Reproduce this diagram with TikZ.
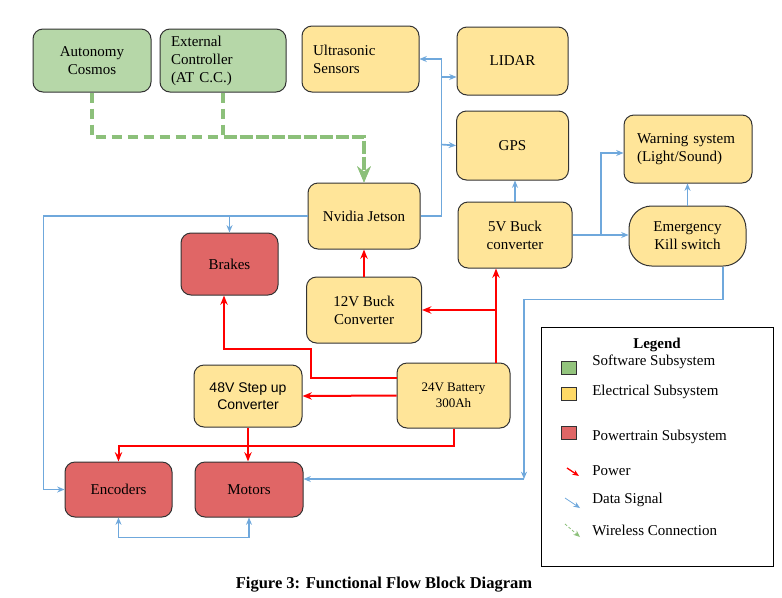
\documentclass[tikz,border=0pt]{standalone}
\usepackage{fontspec}
\setmainfont{Liberation Serif}
\newfontfamily\arialfont{Liberation Sans}
\usepackage{tikz}
\usetikzlibrary{shapes,arrows,arrows.meta,calc}
\usetikzlibrary{positioning}
\definecolor{clrBorders}{RGB}{51,51,51}
\definecolor{clrSoftware}{RGB}{182,215,168}
\definecolor{clrElectrical}{RGB}{255,229,153}
\definecolor{clrPowertrain}{RGB}{224,102,102}
\definecolor{clrData}{RGB}{111,168,220}
\definecolor{clrWireless}{RGB}{140,192,122}
\newcommand{\boxtxt}{\fontsize{11.25}{13.5}\selectfont}
\tikzstyle{box_style0}=[draw=clrBorders, line width=0.75pt, rounded corners=7.5pt,
anchor=center, align=center, inner sep=2pt, font=\boxtxt]
\tikzstyle{software}=[box_style0, fill=clrSoftware]
\tikzstyle{electrical}=[box_style0, fill=clrElectrical]
\tikzstyle{powertrain}=[box_style0, fill=clrPowertrain]
\tikzstyle{power}=[->, >={Stealth[length=7pt, width=5.5pt]}, draw=red, line width=1.5pt]
\tikzstyle{data}=[->, >={Stealth[length=5.5pt, width=4.5pt]}, draw=clrData, line width=1.25pt]
\tikzstyle{wireless}=[->, >={Stealth[length=12pt, width=10pt]}, draw=clrWireless, line width=2.4pt, dash pattern=on 8pt off 4pt]
\tikzstyle{legend_item}=[anchor=west, inner sep=0pt, font=\boxtxt]
\tikzstyle{legend_sq}=[draw=clrBorders, line width=0.75pt, minimum width=11.25pt, minimum height=9.75pt, inner sep=0pt]

\begin{document}
\begin{tikzpicture}[x=0.75pt, y=-0.75pt]
		\path[use as bounding box, fill=white] (0,0) rectangle (782,597);

		% software subsystem
		\node[software, minimum width=88.5pt, minimum height=47.25pt] (Cos) at (92,60.5) {Autonomy\\Cosmos};
		\node[software, align=left, text width=78pt, inner xsep=8.25pt, minimum height=47.25pt] (Ext) at (223,60.5) {External\\Controller\\(AT C.C.)};

		% electrical subsystem
		\node[electrical, align=left, text width=71.25pt, inner xsep=8.25pt, minimum height=49.5pt] (Ult) at (360.5,59) {Ultrasonic\\Sensors};
		\node[electrical, minimum width=83.25pt, minimum height=51pt] (Lid) at (512.5,61) {LIDAR};
		\node[electrical, minimum width=84pt, minimum height=51.75pt, below=11.25pt of Lid] (Gps) {GPS};
		\node[electrical, minimum width=84pt, minimum height=49.5pt] (Jet) at (364,216) {Nvidia Jetson};
		\node[electrical, minimum width=86.25pt, minimum height=49.5pt, below=20.25pt of Jet] (V12) {12V Buck\\Converter};
		\node[electrical, minimum width=85.5pt, minimum height=49.5pt] (V5) at (515,235) {5V Buck\\converter};
		\node[electrical, align=left, text width=76.5pt, inner xsep=9.75pt, minimum height=51pt] (War) at (688,149) {Warning system\\(Light/Sound)};
		\node[electrical, rounded corners=17pt, minimum width=87.75pt, minimum height=45pt] (Kil) at (687.5,236) {Emergency\\Kill switch};
		\node[electrical, minimum width=81pt, minimum height=46.5pt, font=\arialfont\fontsize{10.5}{12.75}\selectfont] (S48) at (248,396) {48V Step up\\Converter};
		\node[electrical, minimum width=84.75pt, minimum height=48.75pt, font=\fontsize{9.75}{12}\selectfont] (Bat) at (453.5,395.5) {24V Battery\\300Ah};

		% powertrain subsystem
		\node[powertrain, minimum width=72.75pt, minimum height=46.5pt] (Brk) at (229.5,264) {Brakes};
		\node[powertrain, minimum width=80.25pt, minimum height=41.25pt] (Enc) at (118.5,489.5) {Encoders};
		\node[powertrain, minimum width=81pt, minimum height=41.25pt, right=16.5pt of Enc] (Mot) {Motors};

		% wireless
		\coordinate (gw) at (364,137);
		\draw[wireless] (Cos.south) |- (gw) -- (Jet.north);
		\draw[wireless] (Ext.south) |- (gw) -- (Jet.north);

		% power
		\coordinate (pj) at (496,310);
		\draw[power] (Bat.north -| pj) -- (V5.south -| pj);
		\draw[power] (pj) -- (V12.east);
		\draw[power] (V12.north) -- (Jet.south);
		\draw[power] ($(Bat.west)+(0,-17.5)$) -| (311,349) -| ($(Brk.south)+(-5.5,0)$);
		\draw[power] (Bat.west) -- (S48.east);
		\draw[power] (Bat.south) -- ++(0,17) -| (Enc.north);
		\draw[power] (S48.south) -- (S48.south |- Mot.north);

		% data
		\coordinate (busL) at (441,77);
		\coordinate (busG) at (441,144.5);
		\draw[data] (Jet.east) -| ($(Ult.east)+(22,0)$) -- (Ult.east);
		\draw[data] (busL) -- (busL -| Lid.west);
		\draw[data] (busG) -- (Gps.west);
		\draw[data] (Jet.west) -| ($(Enc.west)+(-21,0)$) -- (Enc.west);
		\draw[data] (Brk.north |- Jet.west) -- (Brk.north);
		\draw[data] (V5.north) -- (V5.north |- Gps.south);
		\draw[data] (V5.east) -- (V5.east -| Kil.west);
		\coordinate (wb) at (601,235);
		\draw[data] (wb) |- ($(War.west)+(0,4)$);
		\draw[data] (Kil.north) -- (Kil.north |- War.south);
		\coordinate (km) at (524,479);
		\draw[data] ($(Kil.south)+(35.5,0)$) -- ++(0,33) -| (km);
		\draw[data] (km) -- (km -| Mot.east);
		\draw[data, <->] (Enc.south) -- ++(0,20) -| (Mot.south);

		% legend
		\node[draw=black, line width=0.75pt, minimum width=174pt, minimum height=179.25pt] (Leg) at (657,446.5) {};
		\node[font=\boxtxt\bfseries] (LegT) at (657,345) {Legend};
		\node[legend_sq, fill={rgb,255:red,147;green,196;blue,125}] (SqS) at (568.5,367.5) {};
		\node[legend_sq, fill={rgb,255:red,255;green,217;blue,102}] (SqE) at (568.5,393.5) {};
		\node[legend_sq, fill=clrPowertrain] (SqP) at (568.5,432.5) {};
		\node[legend_item] (LS) at (592,362) {Software Subsystem};
		\node[legend_item] (LE) at (592,392) {Electrical Subsystem};
		\node[legend_item] (LP) at (592,437) {Powertrain Subsystem};
		\node[legend_item] (LPw) at (592,471) {Power};
		\node[legend_item] (LD) at (592,500) {Data Signal};
		\node[legend_item] (LW) at (592,530) {Wireless Connection};
		\draw[->, >={Stealth[length=5pt, width=4pt]}, red, line width=1pt] (567,468) -- (579,476);
		\draw[->, >={Stealth[length=5pt, width=4pt]}, clrData, line width=0.6pt] (565,498) -- (580,508);
		\draw[->, >={Stealth[length=5pt, width=4pt]}, clrWireless, line width=0.6pt, dash pattern=on 2pt off 1.5pt] (565,524) -- (580,537);

		\node[font=\bfseries\fontsize{12.4}{15}\selectfont] (Cap) at (384,585) {Figure 3: Functional Flow Block Diagram};
	\end{tikzpicture}
\end{document}
